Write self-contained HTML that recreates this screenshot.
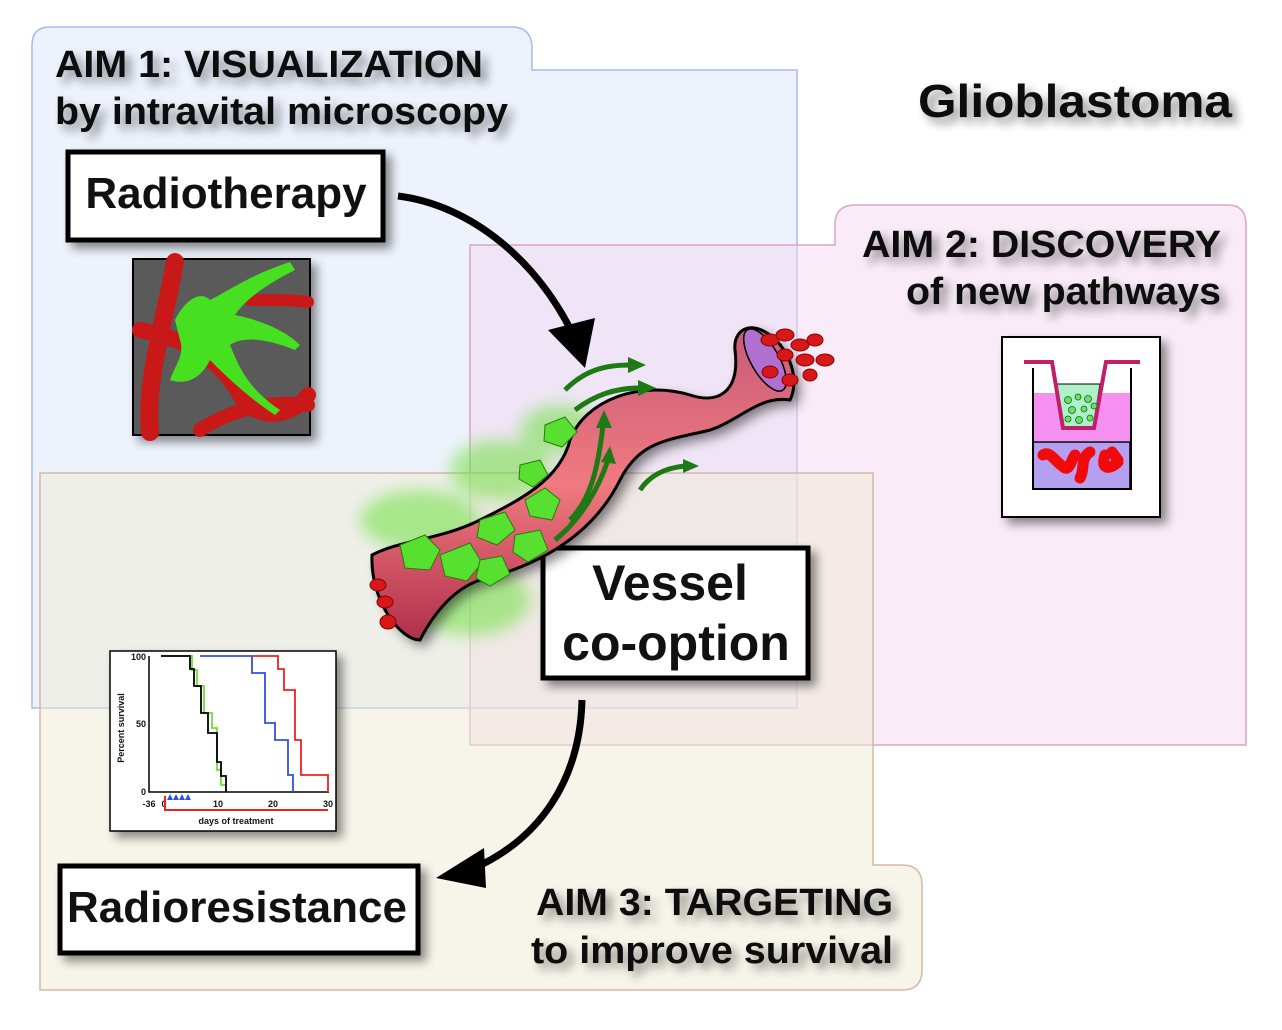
<!DOCTYPE html>
<html><head><style>
body{margin:0;background:#fff;}
svg text{font-family:"Liberation Sans",Arial,sans-serif;font-weight:bold;}
</style></head><body>
<svg width="1282" height="1025" viewBox="0 0 1282 1025" xmlns="http://www.w3.org/2000/svg">
<defs>
<filter id="sh" x="-20%" y="-20%" width="150%" height="150%"><feGaussianBlur in="SourceAlpha" stdDeviation="5"/><feOffset dx="6" dy="6"/><feComponentTransfer><feFuncA type="linear" slope="0.45"/></feComponentTransfer><feMerge><feMergeNode/><feMergeNode in="SourceGraphic"/></feMerge></filter>
<filter id="bl"><feGaussianBlur stdDeviation="8"/></filter>
<filter id="bl2"><feGaussianBlur stdDeviation="6"/></filter>
<linearGradient id="vg" x1="0" y1="0" x2="0" y2="1"><stop offset="0" stop-color="#c85a78"/><stop offset="0.5" stop-color="#f07a80"/><stop offset="1" stop-color="#b0304a"/></linearGradient>
</defs>
<path d="M32,708 V45 Q32,27 50,27 H512 Q530,27 532,45 V70 H797 V708 Z" fill="#dbe6fa" fill-opacity="0.5" stroke="#a9b9ee" stroke-width="1.5"/>
<path d="M470,745 V245 H835 V225 Q835,205 855,205 H1228 Q1246,205 1246,225 V745 Z" fill="#f3d8f0" fill-opacity="0.5" stroke="#d8a8c0" stroke-width="1.5"/>
<path d="M40,990 V473 H873 V865 H902 Q922,865 922,885 V970 Q922,990 902,990 Z" fill="#efebd6" fill-opacity="0.5" stroke="#d4b8a8" stroke-width="1.5"/>

<text x="55" y="77" font-size="38" fill="#111" filter="url(#sh)" textLength="428" lengthAdjust="spacingAndGlyphs">AIM 1: VISUALIZATION</text>
<text x="55" y="124" font-size="38" fill="#111" filter="url(#sh)" textLength="453" lengthAdjust="spacingAndGlyphs">by intravital microscopy</text>
<text x="918" y="117" font-size="46" fill="#111" filter="url(#sh)" textLength="314" lengthAdjust="spacingAndGlyphs">Glioblastoma</text>
<text x="862" y="257" font-size="38" fill="#111" filter="url(#sh)" textLength="359" lengthAdjust="spacingAndGlyphs">AIM 2: DISCOVERY</text>
<text x="906" y="304" font-size="38" fill="#111" filter="url(#sh)" textLength="315" lengthAdjust="spacingAndGlyphs">of new pathways</text>
<text x="536" y="915" font-size="38" fill="#111" filter="url(#sh)" textLength="357" lengthAdjust="spacingAndGlyphs">AIM 3: TARGETING</text>
<text x="531" y="963" font-size="38" fill="#111" filter="url(#sh)" textLength="362" lengthAdjust="spacingAndGlyphs">to improve survival</text>

<g filter="url(#sh)">
<rect x="68" y="152" width="315" height="88" fill="#fff" stroke="#000" stroke-width="5"/>
<rect x="60" y="866" width="358" height="87" fill="#fff" stroke="#000" stroke-width="5"/>
<rect x="543" y="548" width="265" height="130" fill="#fff" stroke="#000" stroke-width="5"/>
</g>
<text x="226" y="208" font-size="44" text-anchor="middle" fill="#111">Radiotherapy</text>
<text x="237" y="922" font-size="44" text-anchor="middle" fill="#111">Radioresistance</text>
<text x="670" y="600" font-size="50" text-anchor="middle" fill="#111">Vessel</text>
<text x="676" y="660" font-size="50" text-anchor="middle" fill="#111">co-option</text>

<g filter="url(#sh)">
<rect x="133" y="259" width="177" height="176" fill="#5a5a5a" stroke="#000" stroke-width="2"/>
</g>
<g stroke="#c81818" stroke-linecap="round" fill="none">
<path d="M175,262 C165,320 145,380 150,432" stroke-width="18"/>
<path d="M140,330 C190,340 220,360 240,395 C255,420 290,420 308,395" stroke-width="16"/>
<path d="M200,430 C230,410 270,400 308,405" stroke-width="14"/>
<path d="M250,300 C275,300 295,300 308,302" stroke-width="12"/>
</g>
<g fill="#46e020">
<path d="M175,320 C185,300 200,290 210,300 C230,290 250,275 290,262 L295,270 C265,285 245,300 235,315 C260,320 285,330 300,345 L295,350 C270,340 245,335 230,345 C240,370 250,390 280,410 L275,415 C245,395 225,375 210,360 C200,380 185,385 170,380 C175,365 185,355 180,340 Z"/>
</g>

<g filter="url(#sh)"><rect x="1002" y="337" width="158" height="180" fill="#fff" stroke="#000" stroke-width="2"/></g>
<rect x="1033" y="393" width="97" height="48" fill="#f590f0"/>
<rect x="1033" y="442" width="97" height="47" fill="#b49ff0" stroke="#000" stroke-width="1.5"/>
<path d="M1033,368 V489 H1131 V368" fill="none" stroke="#000" stroke-width="2"/>
<path d="M1057,384 H1100 L1093,428 H1063 Z" fill="#b0f0c8" stroke="#000" stroke-width="1"/>
<path d="M1024,362 H1052 L1063,428 H1094 L1106,362 H1140" fill="none" stroke="#c0206a" stroke-width="4"/>
<g fill="#70e050" stroke="#064" stroke-width="0.8">
<circle cx="1068" cy="400" r="3.5"/><circle cx="1078" cy="397" r="3"/><circle cx="1088" cy="399" r="3.5"/><circle cx="1072" cy="410" r="3.5"/><circle cx="1084" cy="409" r="3"/><circle cx="1094" cy="406" r="3"/><circle cx="1068" cy="419" r="3"/><circle cx="1079" cy="420" r="3.5"/><circle cx="1090" cy="418" r="3"/>
</g>
<g stroke="#f00a0a" stroke-width="11" stroke-linecap="round" fill="none">
<path d="M1043,455 C1050,450 1055,462 1065,468 C1070,470 1072,458 1075,455"/>
<path d="M1090,452 C1080,458 1085,470 1080,478"/>
<path d="M1105,455 C1100,470 1110,470 1118,462 M1112,452 L1118,460"/>
</g>

<g filter="url(#sh)"><rect x="110" y="651" width="226" height="180" fill="#fff" stroke="#000" stroke-width="1.5"/></g>
<g font-size="9" fill="#111">
<text x="146" y="660" text-anchor="end">100</text><text x="146" y="727" text-anchor="end">50</text><text x="146" y="795" text-anchor="end">0</text>
<text x="149" y="807" text-anchor="middle">-36</text><text x="164" y="807" text-anchor="middle">0</text><text x="218" y="807" text-anchor="middle">10</text><text x="273" y="807" text-anchor="middle">20</text><text x="328" y="807" text-anchor="middle">30</text>
<text x="236" y="824" text-anchor="middle">days of treatment</text>
<text transform="translate(124,728) rotate(-90)" text-anchor="middle">Percent survival</text>
</g>
<path d="M149,656 V792 H329" fill="none" stroke="#000" stroke-width="1.5"/>
<path d="M161,656 H192 V670 H197 V686 H204 V713 H212 V728 H217 V770 H221 V785 H226 V792" fill="none" stroke="#70e030" stroke-width="1.8"/>
<path d="M161,656 H190 V669 H194 V686 H201 V713 H208 V733 H217 V762 H221 V776 H226 V792" fill="none" stroke="#000" stroke-width="1.8"/>
<path d="M200,656 H252 V673 H265 V723 H275 V740 H288 V775 H293 V792" fill="none" stroke="#3050e0" stroke-width="1.8"/>
<path d="M252,656 H278 V669 H284 V690 H295 V740 H301 V775 H328 V792" fill="none" stroke="#f02020" stroke-width="1.8"/>
<path d="M165,796 V810 H328" fill="none" stroke="#f02020" stroke-width="2"/>
<g fill="#3050e0"><path d="M167,800 l3,-6 l3,6z M173,800 l3,-6 l3,6z M179,800 l3,-6 l3,6z M185,800 l3,-6 l3,6z"/></g>

<g fill="#6ee040" opacity="0.55" filter="url(#bl)">
<ellipse cx="420" cy="520" rx="60" ry="30"/><ellipse cx="500" cy="470" rx="50" ry="30"/><ellipse cx="470" cy="600" rx="60" ry="35"/><ellipse cx="560" cy="430" rx="40" ry="25"/>
</g>
<path d="M372,555 C400,540 440,540 480,520 C520,500 560,480 570,440 C585,400 640,380 690,395 C720,405 740,390 735,350 C733,330 750,320 770,335 C790,350 800,380 790,400 C760,395 740,420 710,430 C670,440 640,440 620,480 C600,520 560,560 480,580 C450,590 430,620 420,640 C400,640 370,600 372,555 Z" fill="#000" opacity="0.5" filter="url(#bl2)" transform="translate(6,6)"/>
<path d="M372,555 C400,540 440,540 480,520 C520,500 560,480 570,440 C585,400 640,380 690,395 C720,405 740,390 735,350 C733,330 750,320 770,335 C790,350 800,380 790,400 C760,395 740,420 710,430 C670,440 640,440 620,480 C600,520 560,560 480,580 C450,590 430,620 420,640 C400,640 370,600 372,555 Z" fill="url(#vg)" stroke="#000" stroke-width="3"/>
<ellipse cx="765" cy="360" rx="14" ry="35" transform="rotate(-30 765 360)" fill="#b070d0" stroke="#000" stroke-width="1.5"/>
<g fill="#d81818" stroke="#800" stroke-width="1">
<ellipse cx="770" cy="340" rx="9" ry="6"/><ellipse cx="785" cy="335" rx="9" ry="6"/><ellipse cx="800" cy="345" rx="9" ry="6"/><ellipse cx="815" cy="340" rx="8" ry="6"/><ellipse cx="825" cy="360" rx="9" ry="6"/><ellipse cx="805" cy="360" rx="9" ry="6"/><ellipse cx="785" cy="355" rx="8" ry="6"/><ellipse cx="790" cy="380" rx="8" ry="6"/><ellipse cx="770" cy="372" rx="8" ry="6"/><ellipse cx="810" cy="375" rx="7" ry="6"/>
<ellipse cx="378" cy="585" rx="8" ry="6"/><ellipse cx="385" cy="602" rx="8" ry="6"/><ellipse cx="388" cy="622" rx="8" ry="7"/>
</g>
<g fill="#58e030" stroke="#2a7a10" stroke-width="1">
<path d="M400,545 l25,-10 l15,15 l-10,20 l-25,-2 z"/><path d="M440,555 l30,-12 l12,20 l-15,18 l-22,-5 z"/><path d="M480,520 l25,-8 l10,18 l-18,15 l-20,-8 z"/><path d="M515,535 l25,-5 l8,20 l-20,12 l-15,-10 z"/><path d="M480,560 l22,-4 l8,18 l-20,12 l-14,-8 z"/><path d="M525,500 l20,-12 l15,12 l-8,20 l-22,-4 z"/><path d="M545,425 l20,-8 l12,15 l-15,15 l-18,-6 z"/><path d="M520,465 l20,-5 l8,15 l-15,12 l-14,-8 z"/>
</g>
<g stroke="#1e7a14" stroke-width="5" fill="none">
<path d="M565,390 C585,370 605,365 630,365"/><path d="M575,410 C595,395 615,388 640,388"/><path d="M570,520 C590,500 598,470 603,425"/><path d="M555,540 C580,520 598,490 608,460"/><path d="M640,490 C650,475 665,468 685,466"/>
</g>
<g fill="#1e7a14"><path d="M628,357 l18,8 l-18,8z M638,380 l18,8 l-18,8z M596,428 l8,-18 l8,18z M601,462 l9,-16 l6,18z M683,459 l16,7 l-16,7z"/></g>

<path d="M398,196 C470,205 540,260 578,345" fill="none" stroke="#000" stroke-width="7"/>
<path d="M548,330 L585,368 L595,318 Z" fill="#000"/>
<path d="M582,700 C580,780 540,840 470,870" fill="none" stroke="#000" stroke-width="7"/>
<path d="M484,848 L436,878 L486,888 Z" fill="#000"/>
</svg>
</body></html>
